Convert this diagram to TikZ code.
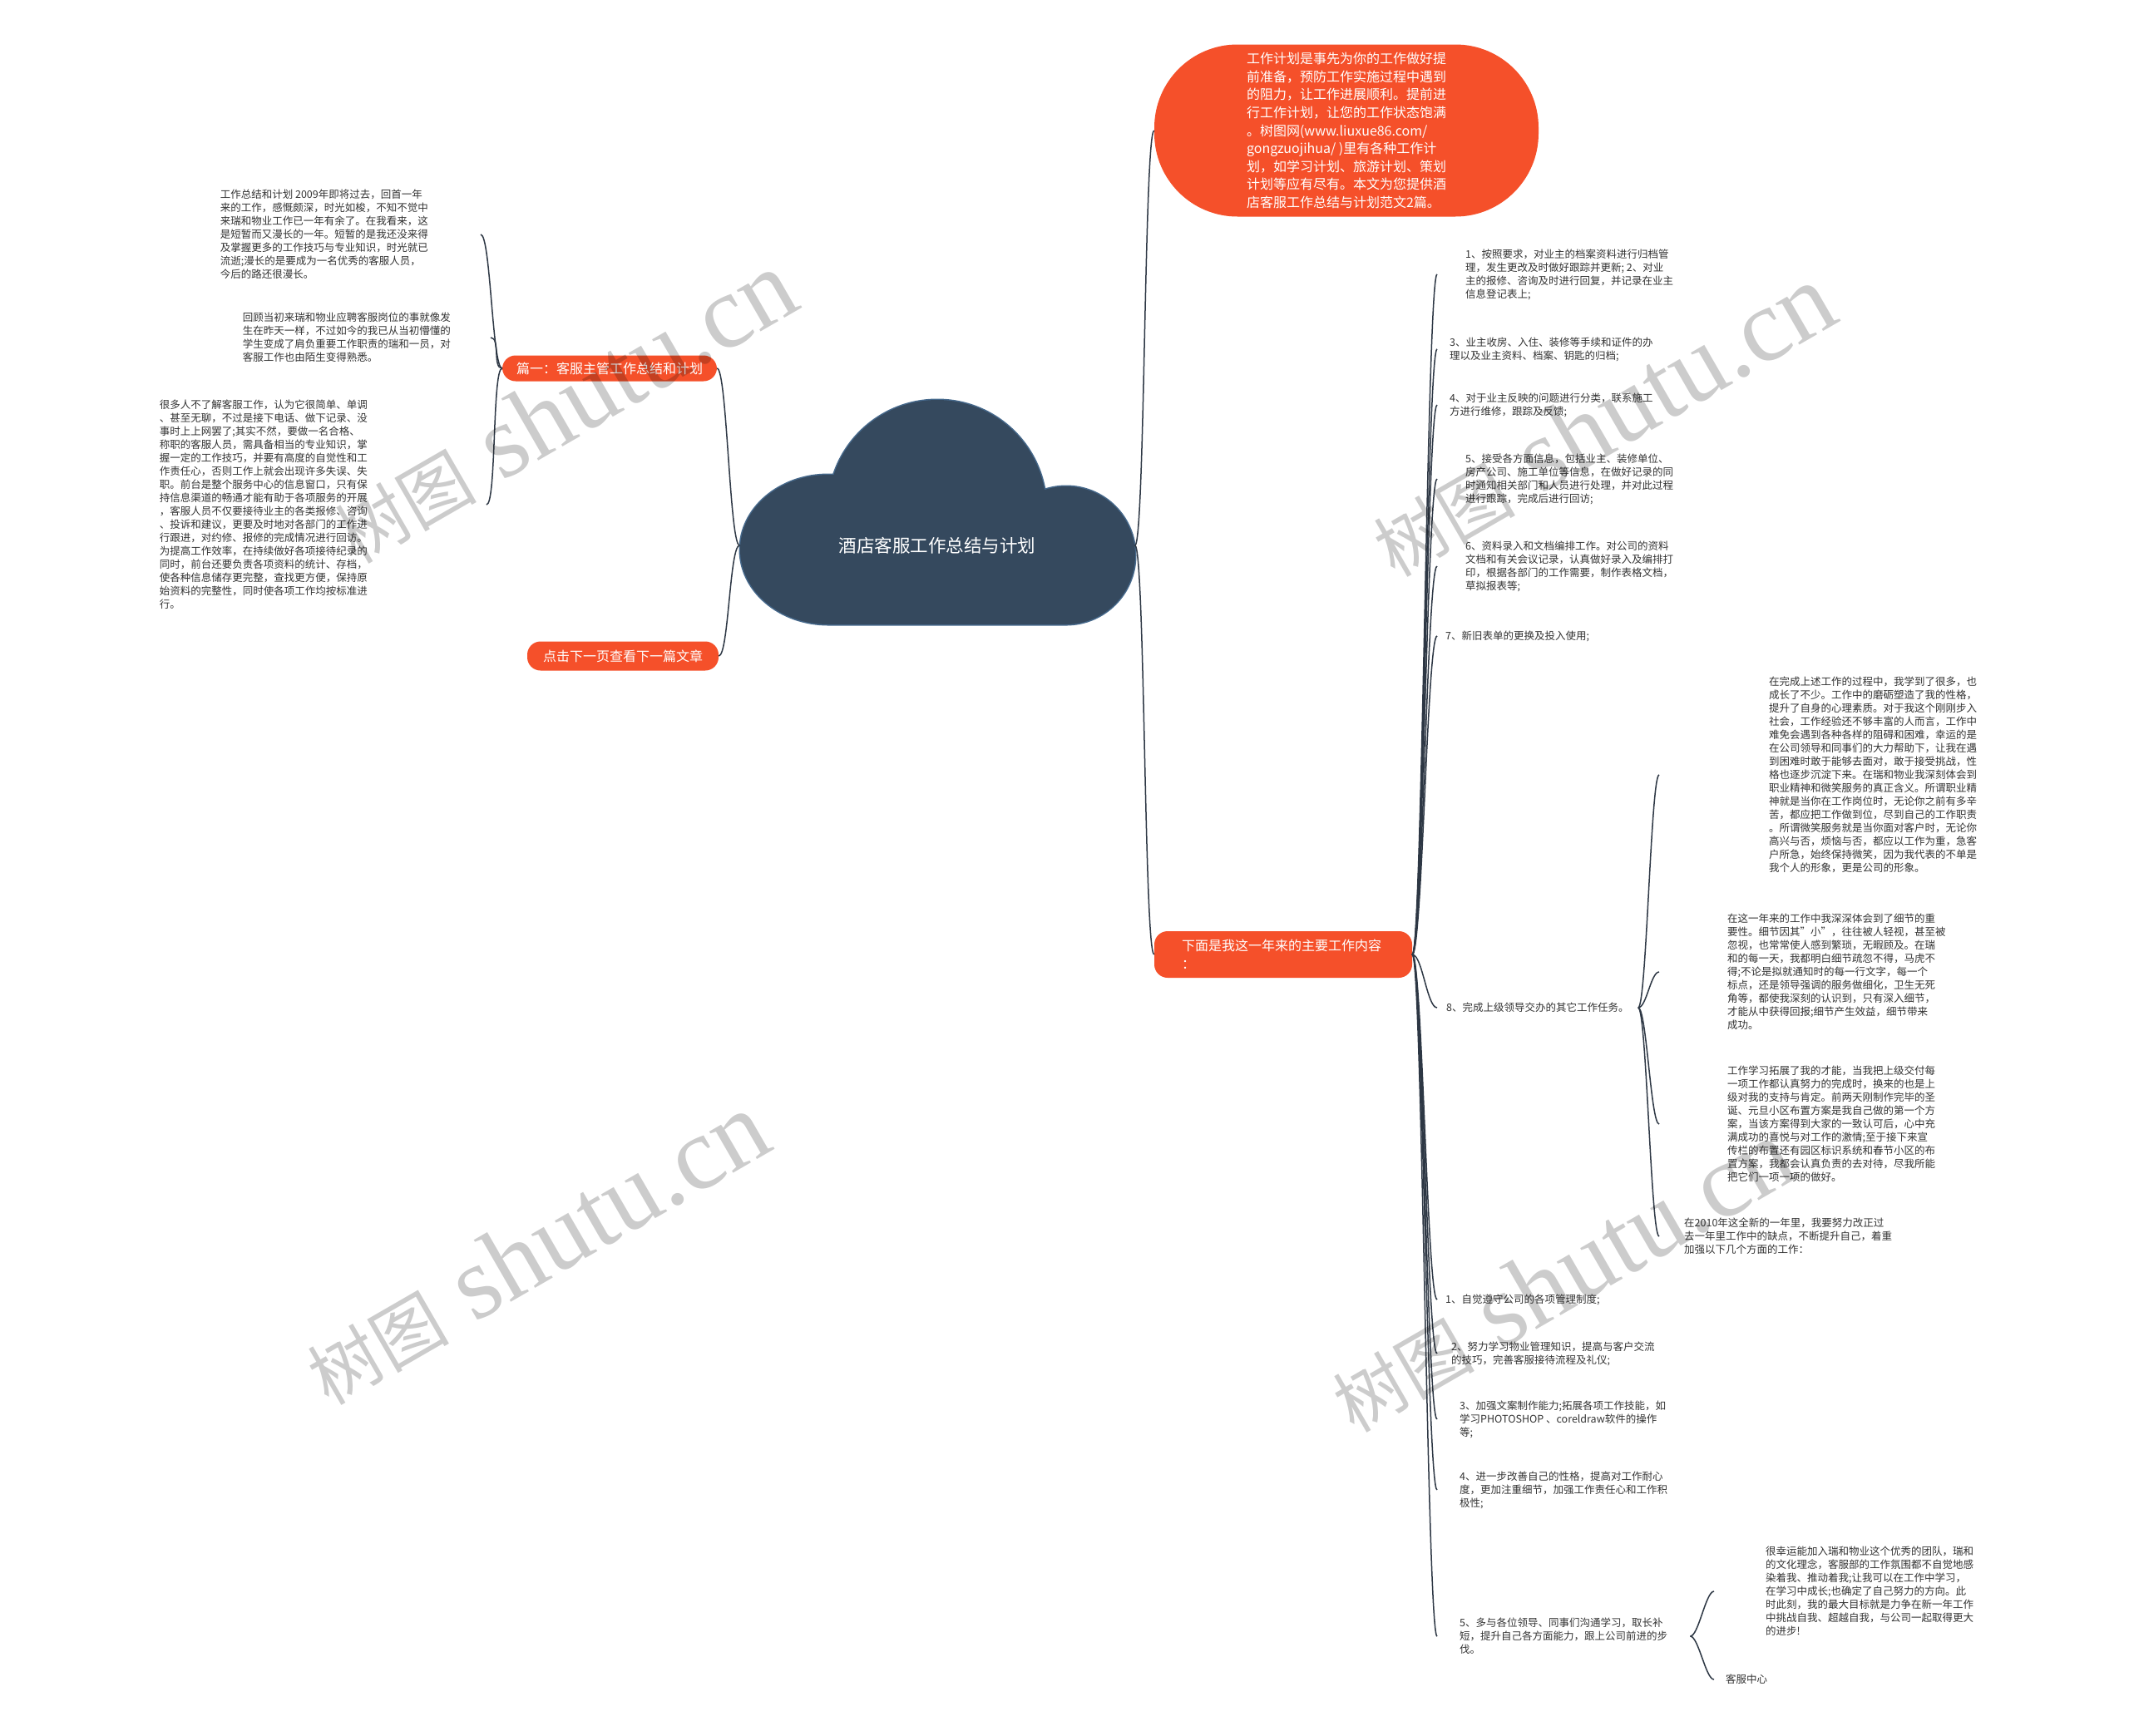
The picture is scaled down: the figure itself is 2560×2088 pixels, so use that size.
\documentclass[tikz,border=0pt]{standalone}
\usepackage{fontspec}
\setmainfont{Noto Sans CJK SC}
\newfontfamily\cjkfont{Noto Sans CJK SC}
\newfontfamily\wmfont{Liberation Serif}
\usetikzlibrary{calc}
\definecolor{topicred}{RGB}{245,80,42}
\definecolor{rootblue}{RGB}{53,73,94}
\definecolor{rootedge}{RGB}{70,105,140}
\definecolor{linegray}{RGB}{45,55,68}
\definecolor{notegray}{RGB}{51,51,51}
\tikzset{ note_style/.style = { inner ysep = 0pt % plain text note
        , align = left
        , text = notegray
        , font = \fontsize{12.5}{16}\selectfont
        }
        , topic_style/.style = { rounded corners = 16pt % red label
        , fill = topicred
        , text = white
        , inner ysep = 0pt
        , font = \fontsize{16}{22}\selectfont
        }
        , wm_style/.style = { text = black % watermark
        , text opacity = 0.2
        , font = \wmfont\fontsize{125}{125}\selectfont
        }
        }

\begin{document}
\begin{tikzpicture}[x=1pt, y=-1pt,
        root_style/.style={draw=none,fill=none,text=white,minimum width=475pt,minimum height=60pt,font=\fontsize{21.5}{26}\selectfont},
        bubble_style/.style={fill=topicred,text=white,rounded corners=100pt,minimum width=462pt,minimum height=207pt,inner sep=0pt,align=left,font=\fontsize{16}{21.6}\selectfont},
        edge_style/.style={draw=linegray, line width=1.5pt}]
        \tikzset{branch/.style={ to path={.. controls +(#1,0) and +(-#1,0) .. (\tikztotarget)}}}

        \fill [white] (0,0) rectangle (2560,2088);
        \useasboundingbox (0,0) rectangle (2560,2088);

        % cloud
        \begin{scope}
            \draw [rootedge, line width=3pt] (1127,612) circle [radius=131pt] (996,661) ellipse [x radius=106pt, y radius=90pt] (1282,668) circle [radius=83pt] (996,661) rectangle (1282,751);
            \fill [rootblue] (1127,612) circle [radius=131pt] (996,661) ellipse [x radius=106pt, y radius=90pt] (1282,668) circle [radius=83pt] (996,661) rectangle (1282,751);
        \end{scope}
        \node [root_style](root) at (1127,656) {酒店客服工作总结与计划};

        \node [bubble_style](intro) at (1619,157) {工作计划是事先为你的工作做好提\\
            前准备，预防工作实施过程中遇到\\
            的阻力，让工作进展顺利。提前进\\
            行工作计划，让您的工作状态饱满\\
            。树图网(www.liuxue86.com/\\
            gongzuojihua/ )里有各种工作计\\
            划，如学习计划、旅游计划、策划\\
            计划等应有尽有。本文为您提供酒\\
            店客服工作总结与计划范文2篇。};
        \node [topic_style,minimum height=31pt,inner xsep=17pt](p1) at (733,443) {篇一：客服主管工作总结和计划};
        \node [topic_style,minimum height=35pt,inner xsep=19pt](more) at (749,789) {点击下一页查看下一篇文章};
        \node [topic_style,minimum width=310pt,minimum height=56pt,text width=244pt,align=left](work) at (1543,1148) {下面是我这一年来的主要工作内容\\：};

        % left notes
        \node [note_style,anchor=east,inner xsep=63pt](l1) at (578,282) {工作总结和计划 2009年即将过去，回首一年\\
            来的工作，感慨颇深，时光如梭，不知不觉中\\
            来瑞和物业工作已一年有余了。在我看来，这\\
            是短暂而又漫长的一年。短暂的是我还没来得\\
            及掌握更多的工作技巧与专业知识，时光就已\\
            流逝;漫长的是要成为一名优秀的客服人员，\\
            今后的路还很漫长。};
        \node [note_style,anchor=east,inner xsep=48pt](l2) at (590,406) {回顾当初来瑞和物业应聘客服岗位的事就像发\\
            生在昨天一样，不过如今的我已从当初懵懂的\\
            学生变成了肩负重要工作职责的瑞和一员，对\\
            客服工作也由陌生变得熟悉。};
        \node [note_style,anchor=east,inner xsep=143pt](l3) at (585,607) {很多人不了解客服工作，认为它很简单、单调\\
            、甚至无聊，不过是接下电话、做下记录、没\\
            事时上上网罢了;其实不然，要做一名合格、\\
            称职的客服人员，需具备相当的专业知识，掌\\
            握一定的工作技巧，并要有高度的自觉性和工\\
            作责任心，否则工作上就会出现许多失误、失\\
            职。前台是整个服务中心的信息窗口，只有保\\
            持信息渠道的畅通才能有助于各项服务的开展\\
            ，客服人员不仅要接待业主的各类报修、咨询\\
            、投诉和建议，更要及时地对各部门的工作进\\
            行跟进，对约修、报修的完成情况进行回访。\\
            为提高工作效率，在持续做好各项接待纪录的\\
            同时，前台还要负责各项资料的统计、存档，\\
            使各种信息储存更完整，查找更方便，保持原\\
            始资料的完整性，同时使各项工作均按标准进\\
            行。};

        % right notes
        \node [note_style,anchor=west,inner xsep=34pt](r1) at (1728,330) {1、按照要求，对业主的档案资料进行归档管\\
            理，发生更改及时做好跟踪并更新; 2、对业\\
            主的报修、咨询及时进行回复，并记录在业主\\
            信息登记表上;};
        \node [note_style,anchor=west,inner xsep=15pt](r3) at (1728,420) {3、业主收房、入住、装修等手续和证件的办\\
            理以及业主资料、档案、钥匙的归档;};
        \node [note_style,anchor=west,inner xsep=15pt](r4) at (1728,487) {4、对于业主反映的问题进行分类，联系施工\\
            方进行维修，跟踪及反馈;};
        \node [note_style,anchor=west,inner xsep=34pt](r5) at (1728,576) {5、接受各方面信息，包括业主、装修单位、\\
            房产公司、施工单位等信息，在做好记录的同\\
            时通知相关部门和人员进行处理，并对此过程\\
            进行跟踪，完成后进行回访;};
        \node [note_style,anchor=west,inner xsep=34pt](r6) at (1728,681) {6、资料录入和文档编排工作。对公司的资料\\
            文档和有关会议记录，认真做好录入及编排打\\
            印，根据各部门的工作需要，制作表格文档，\\
            草拟报表等;};
        \node [note_style,anchor=west,inner xsep=10pt](r7) at (1728,765) {7、新旧表单的更换及投入使用;};
        \node [note_style,anchor=west,inner xsep=11pt](r8) at (1728,1212) {8、完成上级领导交办的其它工作任务。};
        \node [note_style,anchor=west,inner xsep=10pt](s1) at (1728,1563) {1、自觉遵守公司的各项管理制度;};
        \node [note_style,anchor=west,inner xsep=17pt](s2) at (1728,1628) {2、努力学习物业管理知识，提高与客户交流\\
            的技巧，完善客服接待流程及礼仪;};
        \node [note_style,anchor=west,inner xsep=27pt](s3) at (1728,1707) {3、加强文案制作能力;拓展各项工作技能，如\\
            学习PHOTOSHOP 、coreldraw软件的操作\\
            等;};
        \node [note_style,anchor=west,inner xsep=27pt](s4) at (1728,1792) {4、进一步改善自己的性格，提高对工作耐心\\
            度，更加注重细节，加强工作责任心和工作积\\
            极性;};
        \node [note_style,anchor=west,inner xsep=27pt](s5) at (1728,1968) {5、多与各位领导、同事们沟通学习，取长补\\
            短，提升自己各方面能力，跟上公司前进的步\\
            伐。};

        % notes under item 8
        \node [note_style,anchor=west,inner xsep=132pt](a8) at (1995,932) {在完成上述工作的过程中，我学到了很多，也\\
            成长了不少。工作中的磨砺塑造了我的性格，\\
            提升了自身的心理素质。对于我这个刚刚步入\\
            社会，工作经验还不够丰富的人而言，工作中\\
            难免会遇到各种各样的阻碍和困难，幸运的是\\
            在公司领导和同事们的大力帮助下，让我在遇\\
            到困难时敢于能够去面对，敢于接受挑战，性\\
            格也逐步沉淀下来。在瑞和物业我深刻体会到\\
            职业精神和微笑服务的真正含义。所谓职业精\\
            神就是当你在工作岗位时，无论你之前有多辛\\
            苦，都应把工作做到位，尽到自己的工作职责\\
            。所谓微笑服务就是当你面对客户时，无论你\\
            高兴与否，烦恼与否，都应以工作为重，急客\\
            户所急，始终保持微笑，因为我代表的不单是\\
            我个人的形象，更是公司的形象。};
        \node [note_style,anchor=west,inner xsep=82pt](b8) at (1995,1169) {在这一年来的工作中我深深体会到了细节的重\\
            要性。细节因其"小"，往往被人轻视，甚至被\\
            忽视，也常常使人感到繁琐，无暇顾及。在瑞\\
            和的每一天，我都明白细节疏忽不得，马虎不\\
            得;不论是拟就通知时的每一行文字，每一个\\
            标点，还是领导强调的服务做细化，卫生无死\\
            角等，都使我深刻的认识到，只有深入细节，\\
            才能从中获得回报;细节产生效益，细节带来\\
            成功。};
        \node [note_style,anchor=west,inner xsep=82pt](c8) at (1995,1352) {工作学习拓展了我的才能，当我把上级交付每\\
            一项工作都认真努力的完成时，换来的也是上\\
            级对我的支持与肯定。前两天刚制作完毕的圣\\
            诞、元旦小区布置方案是我自己做的第一个方\\
            案，当该方案得到大家的一致认可后，心中充\\
            满成功的喜悦与对工作的激情;至于接下来宣\\
            传栏的布置还有园区标识系统和春节小区的布\\
            置方案，我都会认真负责的去对待，尽我所能\\
            把它们一项一项的做好。};
        \node [note_style,anchor=west,inner xsep=30pt](d8) at (1995,1487) {在2010年这全新的一年里，我要努力改正过\\
            去一年里工作中的缺点，不断提升自己，着重\\
            加强以下几个方面的工作：};

        % notes under item 5
        \node [note_style,anchor=west,inner xsep=62pt](e5) at (2061,1914) {很幸运能加入瑞和物业这个优秀的团队，瑞和\\
            的文化理念，客服部的工作氛围都不自觉地感\\
            染着我、推动着我;让我可以在工作中学习，\\
            在学习中成长;也确定了自己努力的方向。此\\
            时此刻，我的最大目标就是力争在新一年工作\\
            中挑战自我、超越自我，与公司一起取得更大\\
            的进步!};
        \node [note_style,anchor=west,inner xsep=14pt](f5) at (2061,2020) {客服中心};

        \draw [edge_style] (root.east) to[branch=12] (intro.west);
        \draw [edge_style] (root.east) to[branch=12] (work.west);
        \draw [edge_style] (root.west) to[branch=-12] (p1.east);
        \draw [edge_style] (root.west) to[branch=-12] (more.east);
        \foreach \n in {l1,l2,l3}
            \draw [edge_style] (p1.west) to[branch=-12] (\n.east);
        \foreach \n in {r1,r3,r4,r5,r6,r7,r8,s1,s2,s3,s4,s5}
            \draw [edge_style] (work.east) to[branch=12] (\n.west);
        \foreach \n in {a8,b8,c8,d8}
            \draw [edge_style] (r8.east) to[branch=10] (\n.west);
        \foreach \n in {e5,f5}
            \draw [edge_style] (s5.east) to[branch=10] (\n.west);

        % watermarks
        \node [wm_style,rotate=30](wm1) at (678,490) {{\cjkfont\fontsize{85}{85}\selectfont 树图} shutu.cn};
        \node [wm_style,rotate=30](wm2) at (1927,506) {{\cjkfont\fontsize{85}{85}\selectfont 树图} shutu.cn};
        \node [wm_style,rotate=30](wm3) at (645,1502) {{\cjkfont\fontsize{85}{85}\selectfont 树图} shutu.cn};
        \node [wm_style,rotate=30](wm4) at (1878,1535) {{\cjkfont\fontsize{85}{85}\selectfont 树图} shutu.cn};
\end{tikzpicture}
\end{document}
